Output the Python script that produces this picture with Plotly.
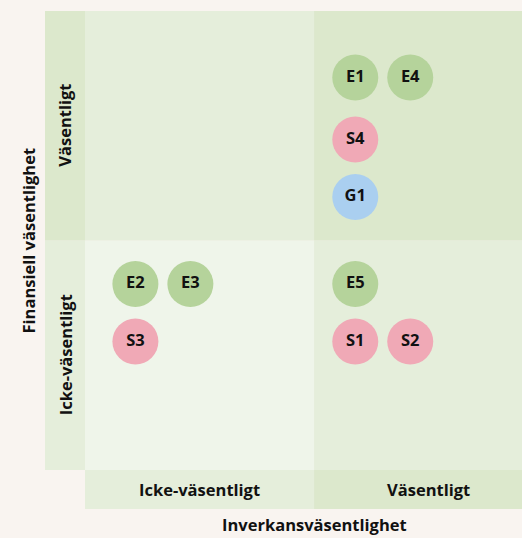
import plotly.graph_objects as go

# ---- data ----
impact_labels = ["Icke-väsentligt", "Väsentligt"]      # x categories
financial_labels = ["Icke-väsentligt", "Väsentligt"]   # y categories
x_title = "Inverkansväsentlighet"
y_title = "Finansiell väsentlighet"

codes = ["E1", "E4", "S4", "G1", "E2", "E3", "S3", "E5", "S1", "S2"]
pillar = ["E", "E", "S", "G", "E", "E", "S", "E", "S", "S"]
x_pos = [1.18, 1.42, 1.18, 1.18, 0.22, 0.46, 0.22, 1.18, 1.18, 1.42]
y_pos = [1.71, 1.71, 1.44, 1.19, 0.81, 0.81, 0.56, 0.81, 0.56, 0.56]

# ---- styles ----
BG = "#f9f4f0"
SHADES = ["#eff5ea", "#e5eedb", "#dce8cc"]
PILLAR_COLORS = {"E": "#b5d39b", "S": "#f0a9b6", "G": "#aacff0"}
FONT = "Open Sans"
TXT = "#111111"
LBL = dict(family=FONT, size=16.5, color=TXT, weight=700)

X0, X1 = -0.1747, 1.908
Y0, Y1 = -0.17, 2.0

fig = go.Figure()

shapes = []
# quadrants
for i in range(2):
    for j in range(2):
        shapes.append(dict(type="rect", xref="x", yref="y", x0=i, x1=i + 1, y0=j, y1=j + 1,
                           fillcolor=SHADES[i + j], line=dict(width=0), layer="below"))
# left strip
for j in range(2):
    shapes.append(dict(type="rect", xref="x", yref="y", x0=X0, x1=0, y0=j, y1=j + 1,
                       fillcolor=SHADES[j + 1], line=dict(width=0), layer="below"))
# bottom strip
for i in range(2):
    shapes.append(dict(type="rect", xref="x", yref="y", x0=i, x1=i + 1, y0=Y0, y1=0,
                       fillcolor=SHADES[i + 1], line=dict(width=0), layer="below"))

fig.add_trace(go.Scatter(
    x=x_pos, y=y_pos, mode="markers+text", text=codes,
    textposition="middle center",
    textfont=dict(family=FONT, size=16.5, color=TXT, weight=700),
    marker=dict(size=46, color=[PILLAR_COLORS[p] for p in pillar], line=dict(width=0)),
    hoverinfo="skip", showlegend=False,
))

annotations = []
for j, lab in enumerate(financial_labels):
    annotations.append(dict(xref="x", yref="y", x=X0 / 2, y=j + 0.5, text=lab, textangle=-90,
                            showarrow=False, font=LBL))
for i, lab in enumerate(impact_labels):
    annotations.append(dict(xref="x", yref="y", x=i + 0.5, y=Y0 / 2, text=lab,
                            showarrow=False, font=LBL))
annotations.append(dict(xref="x", yref="paper", x=1, y=0, yshift=-15, yanchor="middle",
                        text=x_title, showarrow=False, font=LBL))
annotations.append(dict(xref="x", yref="y", x=X0, xshift=-17, xanchor="center", y=1,
                        text=y_title, textangle=-90, showarrow=False, font=LBL))

fig.update_layout(
    width=522, height=538,
    margin=dict(l=45, r=0, t=11, b=29),
    paper_bgcolor=BG, plot_bgcolor=BG,
    shapes=shapes, annotations=annotations,
    xaxis=dict(range=[X0, X1], visible=False, fixedrange=True),
    yaxis=dict(range=[Y0, Y1], visible=False, fixedrange=True),
    showlegend=False,
)

fig.write_html("out.html", config={"displayModeBar": False},
               post_script="document.body.style.margin='0';document.body.style.background='%s';" % BG)
